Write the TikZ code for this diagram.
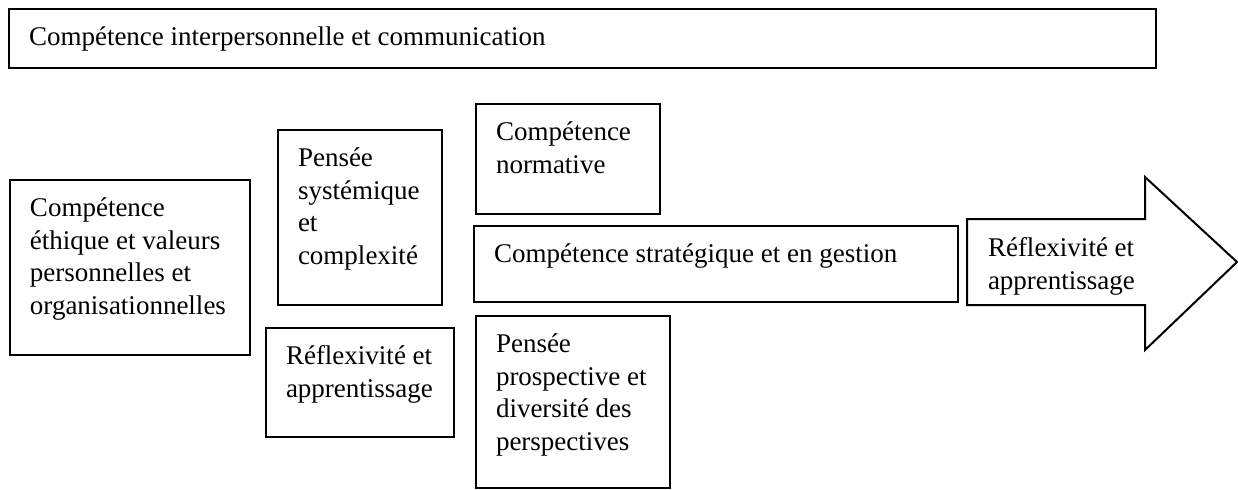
\documentclass[tikz,border=0pt]{standalone}
\usepackage{fontspec}
\setmainfont{Liberation Serif}
\usepackage{tikz}
\usetikzlibrary{
  positioning,
  calc
}
\newcommand{\compfont}{\fontsize{13.5pt}{16.25pt}\selectfont}
% box text: width (px), height (px), lines
\newcommand{\boxtext}[3]{\parbox[c][\dimexpr#2pt/2-14.2pt\relax][t]{\dimexpr#1pt/2-20pt\relax}{\raggedright\strut#3}}

\begin{document}
\begin{tikzpicture}[
  x=0.5pt, y=-0.5pt,
  comp/.style={draw, line width=1pt, anchor=north west, inner xsep=10pt,
    inner ysep=7.1pt, font=\compfont},
  outline/.style={draw, line width=1pt, line join=miter}
]

  \fill[white] (0,0) rectangle (1238,489);
  \useasboundingbox (0,0) rectangle (1238,489);

  % Top band
  \node[comp] (inter) at (8,8)
    {\boxtext{1147}{59}{Compétence interpersonnelle et communication}};

  % Competences
  \node[comp] (ethique) at (9,179)
    {\boxtext{240}{175}{Compétence\\éthique et valeurs\\personnelles et\\organisationnelles}};
  \node[comp] (systemique) at (277,129)
    {\boxtext{164}{175}{Pensée\\systémique\\et\\complexité}};
  \node[comp] (reflexivite) at (265,327)
    {\boxtext{188}{109}{Réflexivité et\\apprentissage}};
  \node[comp] (normative) at (475,103)
    {\boxtext{184}{110}{Compétence\\normative}};
  \node[comp] (strategique) at (473,225)
    {\boxtext{484}{76}{Compétence stratégique et en gestion}};
  \node[comp] (prospective) at (475,315)
    {\boxtext{194}{172}{Pensée\\prospective et\\diversité des\\perspectives}};

  % Arrow
  \node[comp, draw=none] (arrowtext) at (967,219)
    {\boxtext{220}{86}{Réflexivité et\\apprentissage}};
  \draw[outline] (arrowtext.north west) -- ++(178,0) -- ++(0,-42)
    -- ++(92,85) -- ++(-92,88) -- ++(0,-45) -- ++(-178,0) -- cycle;

\end{tikzpicture}
\end{document}
